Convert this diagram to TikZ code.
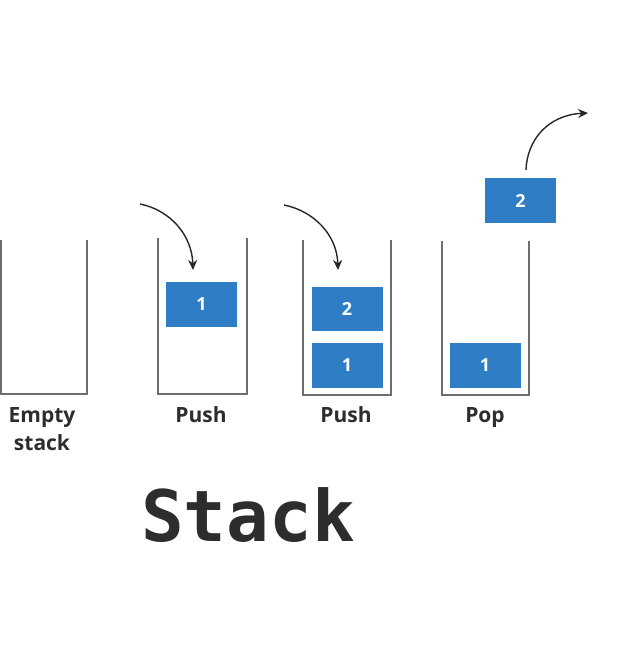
\documentclass[tikz,border=0pt]{standalone}
\usepackage{fontspec}
\setmainfont{Open Sans}
\newfontfamily\titlefont{DejaVu Sans Mono}
\usetikzlibrary{arrows.meta}
\definecolor{boxblue}{RGB}{47,125,196}
\definecolor{wallgray}{RGB}{110,110,110}
\definecolor{textdark}{RGB}{45,45,45}
\tikzset{
  wall/.style={draw=wallgray, line width=2.2pt, line join=miter},
  item/.style={fill=boxblue, draw=none, minimum width=71pt, minimum height=45pt, inner sep=0pt, text=white, font=\bfseries\fontsize{18}{18}\selectfont},
  lbl/.style={text=textdark, font=\bfseries\fontsize{21}{28}\selectfont, align=center, inner sep=0pt, anchor=base},
  flow/.style={-{Stealth[length=10pt,width=9pt]}, line width=1.4pt, black!85}
}
\begin{document}
\begin{tikzpicture}[x=1pt,y=-1pt]
\useasboundingbox (0,0) rectangle (644,667);
% stack walls
\draw[wall] (1,240) -- (1,394) -- (87,394) -- (87,240);
\draw[wall] (158,238) -- (158,394) -- (247,394) -- (247,238);
\draw[wall] (303,240) -- (303,395) -- (391,395) -- (391,240);
\draw[wall] (442,241) -- (442,395) -- (529,395) -- (529,241);
% items
\node[item] (p1) at (201.5,304.5) {1};
\node[item, minimum height=44pt] (q2) at (347,309) {2};
\node[item] (q1) at (347,365.5) {1};
\node[item] (r1) at (485,365) {1};
\node[item] (r2) at (520.5,200.5) {2};
% arrows
\coordinate (a1s) at (140,204);
\coordinate (a1e) at (193,270);
\draw[flow] (a1s) .. controls (170,210) and (192,235) .. (a1e);
\coordinate (a2s) at (284,205);
\coordinate (a2e) at (338,270);
\draw[flow] (a2s) .. controls (314,211) and (337,235) .. (a2e);
\coordinate (a3s) at (526,170);
\coordinate (a3e) at (588,113);
\draw[flow] (a3s) .. controls (527,140) and (548,115) .. (a3e);
% labels
\node[lbl] (l1) at (42,422) {Empty};
\node[lbl] (l1b) at (42,450) {stack};
\node[lbl] (l2) at (201,422) {Push};
\node[lbl] (l3) at (346,422) {Push};
\node[lbl] (l4) at (485,422) {Pop};
\node[text=textdark, font=\titlefont\bfseries\fontsize{71}{71}\selectfont, inner sep=0pt] (title) at (248,515) {Stack};
\end{tikzpicture}
\end{document}
